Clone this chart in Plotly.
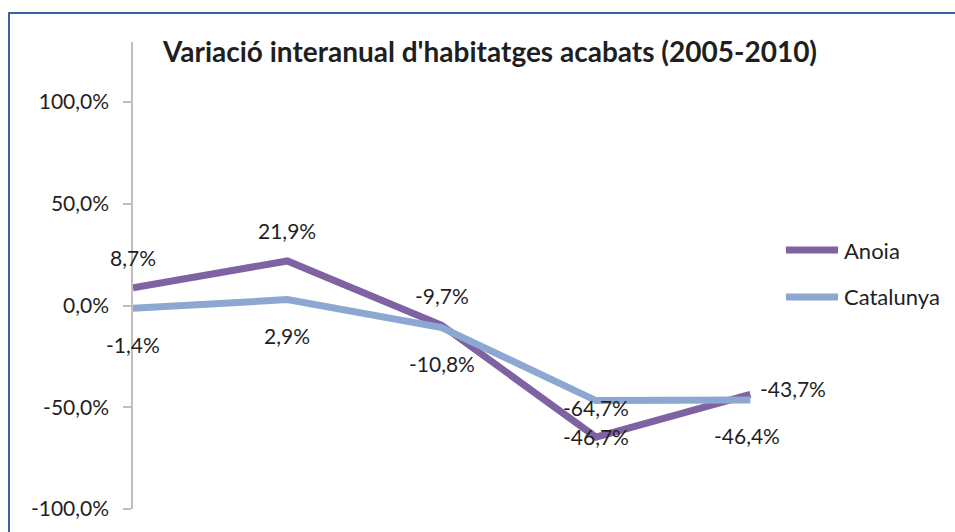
import plotly.graph_objects as go

# ---- data ----
categories = ["2006", "2007", "2008", "2009", "2010"]
anoia = [8.7, 21.9, -9.7, -64.7, -43.7]
catalunya = [-1.4, 2.9, -10.8, -46.7, -46.4]
series_names = ["Anoia", "Catalunya"]
tick_vals = [-100, -50, 0, 50, 100]
title_text = "Variació interanual d'habitatges acabats (2005-2010)"

W, H = 955, 532
L, R, T, B = 133, 200, 42, 21
PW, PH = W - L - R, H - T - B

def px_x(px):
    return (px - L) / PW

def px_y(py):
    return (H - B - py) / PH

def fmt(v):
    return f"{v:.1f}".replace(".", ",") + "%"

colors = ["#7F62A1", "#8DA8D0"]
FONT = "Lato"
TXT = "#1f1f1f"
FS = 21

fig = go.Figure()
for name, vals, col in zip(series_names, [anoia, catalunya], colors):
    fig.add_trace(go.Scatter(x=categories, y=vals, mode="lines", name=name,
                             line=dict(color=col, width=7), showlegend=False))

annotations = []
for i, (c, v) in enumerate(zip(categories, anoia)):
    if i == len(categories) - 1:
        annotations.append(dict(x=i, y=v, xref="x", yref="y", text=fmt(v), showarrow=False,
                                xshift=43, yshift=6, font=dict(family=FONT, size=FS, color=TXT)))
    else:
        annotations.append(dict(x=i, y=v, xref="x", yref="y", text=fmt(v), showarrow=False,
                                yshift=30, font=dict(family=FONT, size=FS, color=TXT)))
for i, (c, v) in enumerate(zip(categories, catalunya)):
    annotations.append(dict(x=i, y=v, xref="x", yref="y", text=fmt(v), showarrow=False,
                            yshift=-36, xshift=-3 if i == len(categories) - 1 else 0,
                            font=dict(family=FONT, size=FS, color=TXT)))

# manual legend
shapes = []
for k, (name, col) in enumerate(zip(series_names, colors)):
    yy = 251 + 47 * k
    shapes.append(dict(type="line", xref="paper", yref="paper",
                       x0=px_x(786), x1=px_x(838), y0=px_y(yy), y1=px_y(yy),
                       line=dict(color=col, width=7)))
    annotations.append(dict(xref="paper", yref="paper", x=px_x(842), y=px_y(yy),
                            text=name, showarrow=False, xanchor="left", yanchor="middle",
                            font=dict(family=FONT, size=22, color=TXT)))

# chart border
shapes.append(dict(type="rect", xref="paper", yref="paper",
                   x0=px_x(9), x1=px_x(990), y0=px_y(560), y1=px_y(13),
                   line=dict(color="#3B64A0", width=2), layer="below"))

fig.update_layout(
    width=W, height=H,
    margin=dict(l=L, r=R, t=T, b=B),
    paper_bgcolor="white", plot_bgcolor="white",
    separators=",.",
    title=dict(text="<b>" + title_text + "</b>", x=490 / W, xanchor="center",
               y=1 - 52 / H, yanchor="middle", yref="container", xref="container",
               font=dict(family=FONT, size=28, color=TXT)),
    xaxis=dict(type="category", range=[0, 4.03], showticklabels=False, showgrid=False,
               zeroline=False, showline=False, ticks=""),
    yaxis=dict(range=[-100, 129.5], tickvals=tick_vals, ticktext=[fmt(v) for v in tick_vals],
               showgrid=False, zeroline=False, showline=True, linecolor="#BFBFBF", linewidth=1.5,
               ticks="outside", ticklen=8, tickcolor="#BFBFBF", tickwidth=1.5,
               ticklabelstandoff=10,
               tickfont=dict(family=FONT, size=FS, color=TXT)),
    annotations=annotations,
    shapes=shapes,
)

fig.write_html("out.html", config={"displayModeBar": False},
               post_script="document.body.style.margin='0';document.body.style.overflow='hidden';")
